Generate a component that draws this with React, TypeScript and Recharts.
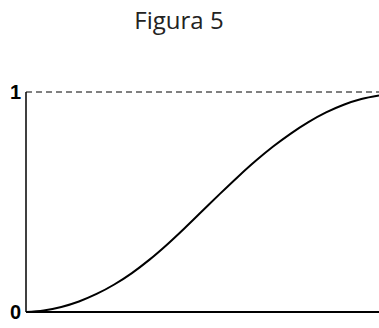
import { LineChart, Line, XAxis, YAxis, ReferenceLine } from 'recharts'

const xs = [0, 0.5, 1, 1.5, 2, 2.5, 3, 3.5, 4, 4.5, 5, 5.5, 6, 6.5, 7, 7.5, 8, 8.5, 9, 9.5, 10]
const ys = [0, 0.007, 0.023, 0.048, 0.082, 0.125, 0.177, 0.238, 0.307, 0.382, 0.46, 0.538, 0.614, 0.686, 0.752, 0.811, 0.863, 0.907, 0.942, 0.968, 0.984]
const yTicks = [0, 1]

const data = xs.map((x, i) => ({ x, y: ys[i] }))

const renderTick = (props: any) => (
  <text x={props.x} y={props.y} dy={7} textAnchor="end" fill="#000"
    fontFamily="Liberation Sans" fontSize={20} fontWeight={700}>
    {props.payload.value}
  </text>
)

export default function App() {
  return (
    <div style={{ position: 'absolute', left: 0, top: 0, width: 379, height: 328, background: '#fff' }}>
      <div style={{
        position: 'absolute', left: 0, top: 3, width: 358, textAlign: 'center',
        fontFamily: '"Open Sans", sans-serif', fontSize: 24, color: '#222', lineHeight: 'normal'
      }}>Figura 5</div>
      <LineChart width={379} height={328} data={data} margin={{ top: 92, right: 0, bottom: 8, left: 0 }}>
        <XAxis dataKey="x" type="number" domain={[0, 10]} tick={false} tickLine={false} height={8}
          axisLine={{ stroke: '#000', strokeWidth: 2 }} />
        <YAxis type="number" domain={[0, 1]} ticks={yTicks} width={26} tickLine={false} tickSize={0} tickMargin={5}
          axisLine={{ stroke: '#000', strokeWidth: 1.5 }} tick={renderTick} />
        <ReferenceLine y={1} stroke="#000" strokeWidth={1} strokeDasharray="6 4" />
        <Line type="monotone" dataKey="y" stroke="#000" strokeWidth={2} dot={false} isAnimationActive={false} />
      </LineChart>
    </div>
  )
}
